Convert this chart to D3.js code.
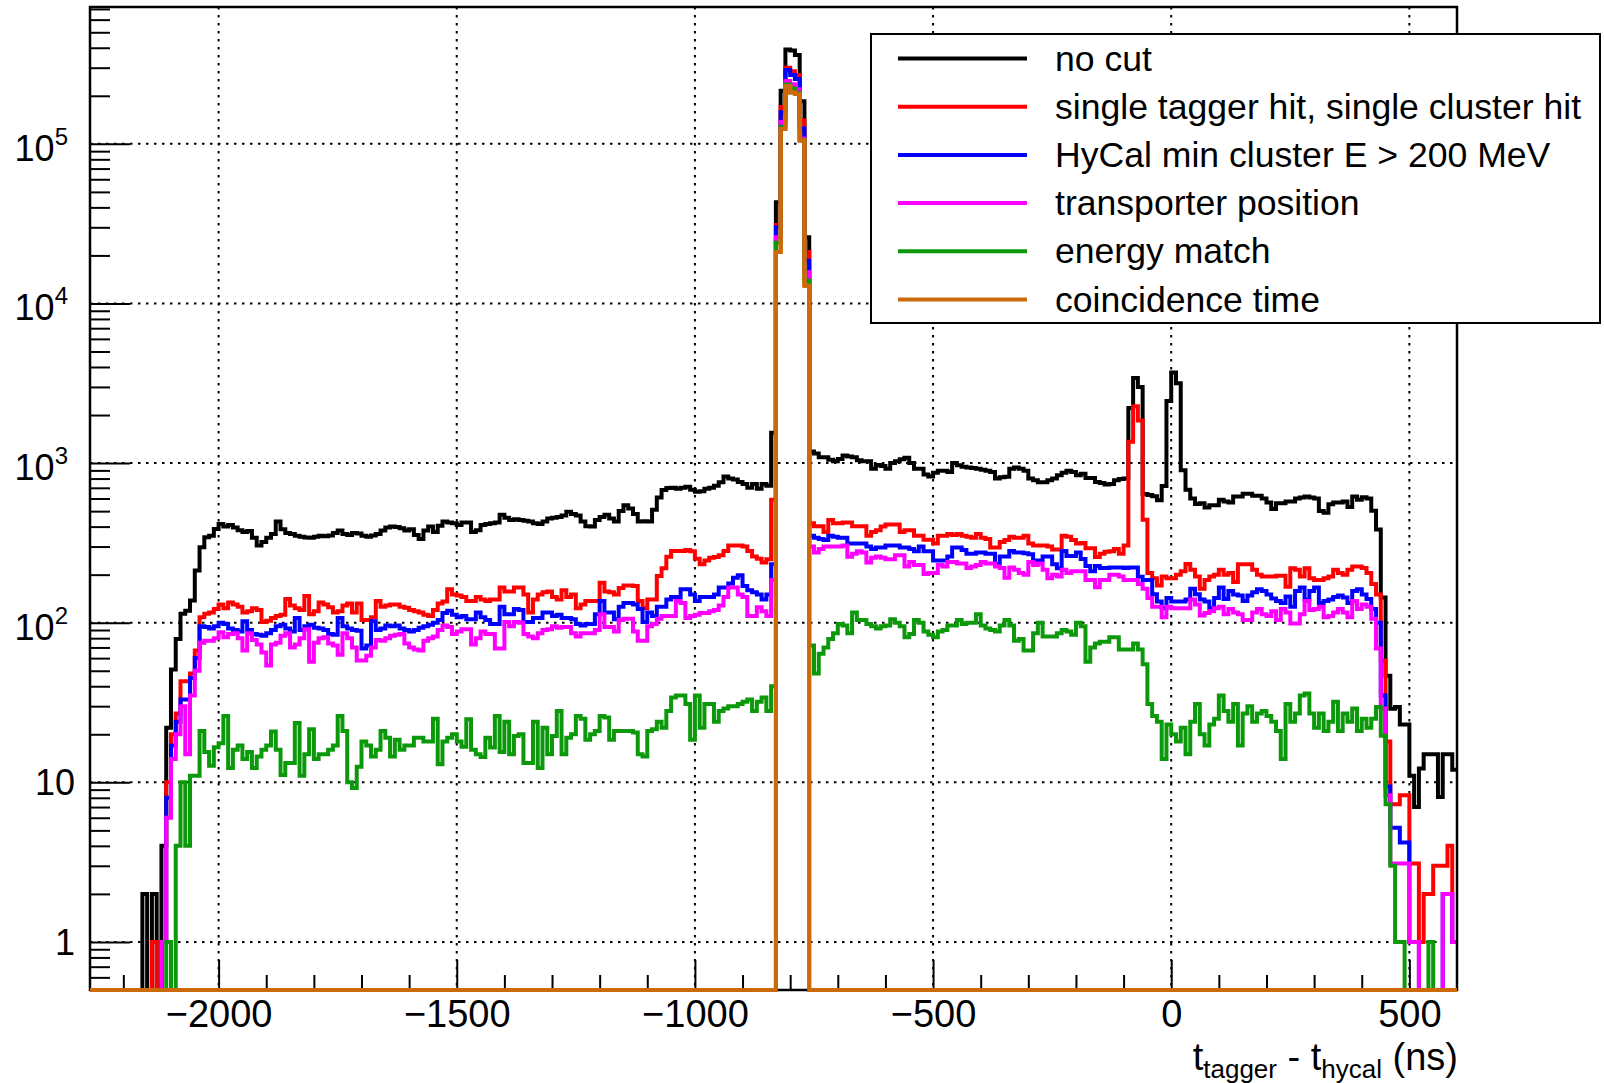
<!DOCTYPE html>
<meta charset="utf-8">
<style>
body { margin: 0; background: #fff; }
text { font-family: "Liberation Sans", Arial, Helvetica, sans-serif; fill: #000; }
.hist { fill: none; stroke-width: 4px; stroke-linejoin: miter; stroke-linecap: butt; }
.grid line { stroke: #000; stroke-width: 2px; stroke-dasharray: 2.5,5.5; }
.tick line { stroke: #000; stroke-width: 2px; }
</style>
<body>
<svg id="chart" width="1604" height="1083"></svg>

<script src="https://d3js.org/d3.v7.min.js"></script>
<script>

// histogram binning (ns)
var xMin = -2270, xMax = 600, binWidth = 10;

// bin contents, 287 bins of 10 ns from -2270 to 600
var noCut = [
  0,0,0,0,0,0,0,0,0,0,
  0,2,0,2,0,4,22,51,79,114,
  119,138,212,297,343,350,387,416,400,410,
  395,380,370,375,340,305,320,340,360,430,
  385,365,360,350,345,342,340,345,350,348,
  352,365,378,360,355,365,362,350,345,352,
  360,378,395,400,398,390,378,385,355,335,
  378,400,370,405,430,425,420,410,425,425,
  370,380,410,415,420,425,474,455,440,445,
  440,435,430,420,415,430,450,455,460,470,
  496,480,470,430,402,400,440,460,474,450,
  430,501,545,520,480,430,432,430,510,608,
  679,698,700,690,700,710,680,661,665,690,
  700,720,759,824,800,790,760,740,700,740,
  690,740,720,1550,43000,215000,390000,385000,360000,185000,
  26000,1180,1150,1086,1086,1050,1028,1060,1117,1100,
  1086,1040,1028,1028,920,973,960,920,1000,1028,
  1057,1080,1000,920,920,847,824,871,896,896,
  880,1000,970,950,940,930,920,910,896,880,
  802,815,820,920,940,920,896,802,780,759,
  759,780,802,840,870,896,880,840,858,807,
  807,760,750,735,740,780,795,800,2210,3415,
  3000,640,631,620,584,718,2450,3690,3160,903,
  681,599,555,560,527,545,545,590,575,567,
  617,617,643,643,625,625,600,567,515,560,
  560,575,575,600,608,617,608,600,501,488,
  553,567,567,575,530,617,590,611,600,503,
  384,144,46.6,28.9,29.6,23,23,11,7,12.2,
  15,15,15,8.1,15,15,12
];

var singleHit = [
  0,0,0,0,0,0,0,0,0,0,
  0,0,0,1,0,1,10,20,27,43,
  43,48,67,108,114,116,122,130,123,134,
  130,126,116,118,123,120,101,103,107,110,
  112,141,128,123,120,147,113,118,134,130,
  125,116,118,128,132,116,132,104,104,108,
  137,126,128,130,130,126,124,120,118,116,
  112,110,120,132,136,162,150,148,145,137,
  137,145,140,137,140,140,166,157,157,166,
  166,150,116,140,150,155,157,145,140,160,
  145,150,123,130,137,137,137,178,157,155,
  150,165,171,171,170,137,123,140,140,196,
  219,259,281,281,281,285,280,252,232,245,
  255,258,265,281,305,305,305,300,281,260,
  252,238,250,590,31000,170000,300000,285000,270000,140000,
  21000,420,402,402,370,440,420,420,425,425,
  402,402,402,350,370,380,400,413,413,413,
  370,380,380,350,350,331,331,313,350,350,
  360,355,360,350,345,340,360,340,335,296,
  296,320,330,345,340,340,350,313,305,305,
  305,300,288,288,350,345,330,313,316,293,
  293,258,270,278,280,290,270,305,1360,2267,
  1848,441,205,190,171,195,190,190,200,210,
  233,215,195,163,185,195,200,215,200,205,
  180,232,232,232,215,200,195,195,195,197,
  197,168,219,215,195,219,190,185,185,190,
  195,215,205,200,215,225,225,220,205,175,
  150,58,18,7.3,7.3,8.3,8.3,3.1,3.1,1,
  2,2,3,3,3,4,1
];

var minEnergy = [
  0,0,0,0,0,0,0,0,0,0,
  0,0,0,0,0,1,8,17,24,33,
  33,45,60,95,94,92,95,100,98,92,
  90,88,102,90,85,84,83,86,90,95,
  97,92,88,107,90,95,97,93,92,90,
  85,84,107,95,92,90,89,69,72,102,
  90,92,96,95,96,92,90,88,90,93,
  95,97,100,104,115,119,112,108,110,105,
  105,116,108,104,98,98,126,113,113,122,
  120,101,101,107,107,116,116,110,112,107,
  107,105,98,96,98,98,113,137,116,116,
  105,126,133,133,130,122,101,116,110,126,
  126,140,145,145,162,162,150,137,145,145,
  145,150,166,166,176,191,198,170,160,155,
  150,140,150,232,30000,158000,290000,270000,255000,125000,
  18500,350,340,335,330,350,345,340,340,313,
  313,313,313,300,290,296,296,305,305,305,
  296,296,290,280,300,280,280,245,245,245,
  260,296,296,285,270,270,275,275,270,270,
  232,260,260,281,275,275,272,268,245,245,
  260,260,232,219,281,262,262,275,251,227,
  210,227,220,220,222,222,222,220,222,222,
  194,185,185,151,136,123,143,136,136,136,
  140,163,151,140,136,123,143,166,141,158,
  150,148,137,148,155,162,158,150,142,137,
  133,146,126,158,166,140,158,166,133,137,
  140,145,148,144,133,158,162,150,141,122,
  100,35,9.4,5.2,5.2,4.2,4.2,1,1,0,
  0,0,0,0,2,2,1
];

var transporter = [
  0,0,0,0,0,0,0,0,0,0,
  0,0,0,0,0,1,6,14,20,30,
  15,35,50,75,77,77,80,87,81,85,
  86,80,67,86,78,73,65,54,73,75,
  83,86,70,73,80,91,57,75,80,81,
  74,72,63,86,80,70,58,58,62,70,
  78,77,80,83,84,85,74,70,68,67,
  77,80,82,90,96,94,85,88,91,91,
  73,80,88,85,85,69,69,101,95,101,
  100,85,82,80,86,90,91,95,93,94,
  94,86,82,86,86,86,90,113,94,94,
  88,104,106,106,88,77,77,95,98,106,
  110,110,110,137,133,107,110,112,115,115,
  118,120,128,145,166,166,150,145,110,110,
  125,118,110,185,26000,137000,248000,236000,220000,108000,
  15700,300,275,290,300,300,300,300,305,259,
  270,280,275,238,255,260,255,250,250,265,
  265,225,240,230,230,202,205,205,230,225,
  240,240,235,235,220,225,230,240,235,235,
  225,220,191,222,215,205,200,240,230,235,
  215,190,200,195,215,205,210,210,210,185,
  185,167,185,185,200,200,195,185,185,185,
  175,163,143,126,126,108,126,123,123,123,
  123,140,130,111,115,118,123,126,113,122,
  116,113,104,104,116,122,113,110,118,104,
  122,116,99,99,113,137,120,122,126,108,
  110,116,122,116,108,137,122,130,126,106,
  69,29,8.3,3.1,3.1,3.1,3.1,1,1,0,
  0,0,0,0,2,2,1
];

var energyMatch = [
  0,0,0,0,0,0,0,0,0,0,
  0,0,0,0,0,0,1,0,4,10,
  4,11,11,21,15.5,12.7,16.6,17.6,26,12.3,
  16,17,14,15.5,12.3,14.5,16,17,20.8,16,
  11.1,13.2,13.2,23.5,11,15,21.5,14,15,15,
  16,17,26,21,10,9.2,12.5,18,17,14.5,
  16,21,19,14.5,18.5,16,17,17,19,19,
  18,18,25,13,18,19,20,18,16.7,24.8,
  16,15,14.4,19,16.5,26,15.5,24,15,19.5,
  20,13.2,13.2,24,12.3,22,15,19.5,28,15,
  19,20,26,25,18.5,20,21,26,25.5,18.5,
  21,21,21,21,20.5,15,14.5,21,21.5,24,
  22,28,34,35,35,31,18.5,35,22,31,
  31,24,28,29,30,30,31,32,33,28,
  32,34,28,40,24000,128000,235000,222000,208000,106000,
  13900,72,48,64,70,79,86,98,96,86,
  116,104,104,98,95,92,95,96,105,100,
  95,81,85,104,100,88,84,81,88,90,
  96,96,104,98,100,100,113,96,92,90,
  88,96,104,96,77,79,67,67,86,100,
  82,82,82,86,90,88,84,100,95,57,
  70,74,76,76,81,81,68,68,68,74,
  68,55,31,26,24,14,23,20,18,22,
  15,24,31,20,17,23,25,35,28,24,
  31,17,27,30,24,27,28,26,24,21,
  14,31,24,27,35,36,27,22,27,21,
  24,32,21,27,24,29,21,25,22,25,
  29.6,19.6,7.3,3,1,1,0,0,0,0,
  0,1,0,0,0,0,0
];

var coincidence = [
  0,0,0,0,0,0,0,0,0,0,
  0,0,0,0,0,0,0,0,0,0,
  0,0,0,0,0,0,0,0,0,0,
  0,0,0,0,0,0,0,0,0,0,
  0,0,0,0,0,0,0,0,0,0,
  0,0,0,0,0,0,0,0,0,0,
  0,0,0,0,0,0,0,0,0,0,
  0,0,0,0,0,0,0,0,0,0,
  0,0,0,0,0,0,0,0,0,0,
  0,0,0,0,0,0,0,0,0,0,
  0,0,0,0,0,0,0,0,0,0,
  0,0,0,0,0,0,0,0,0,0,
  0,0,0,0,0,0,0,0,0,0,
  0,0,0,0,0,0,0,0,0,0,
  0,0,0,0,21000,124000,230000,210000,205000,105000,
  12900,0,0,0,0,0,0,0,0,0,
  0,0,0,0,0,0,0,0,0,0,
  0,0,0,0,0,0,0,0,0,0,
  0,0,0,0,0,0,0,0,0,0,
  0,0,0,0,0,0,0,0,0,0,
  0,0,0,0,0,0,0,0,0,0,
  0,0,0,0,0,0,0,0,0,0,
  0,0,0,0,0,0,0,0,0,0,
  0,0,0,0,0,0,0,0,0,0,
  0,0,0,0,0,0,0,0,0,0,
  0,0,0,0,0,0,0,0,0,0,
  0,0,0,0,0,0,0,0,0,0,
  0,0,0,0,0,0,0,0,0,0,
  0,0,0,0,0,0,0
];

var labels = ["no cut", "single tagger hit, single cluster hit", "HyCal min cluster E > 200 MeV",
              "transporter position", "energy match", "coincidence time"];
var colors = ["#000000", "#ff0000", "#0000ff", "#ff00ff", "#0b990b", "#cc6a0a"];
var allSeries = [noCut, singleHit, minEnergy, transporter, energyMatch, coincidence];

// axis ticks
var xMajor = [-2000, -1500, -1000, -500, 0, 500];
var xMinor = [-2200, -2100, -1900, -1800, -1700, -1600, -1400, -1300, -1200, -1100,
              -900, -800, -700, -600, -400, -300, -200, -100, 100, 200, 300, 400];
var yMajor = [1, 10, 100, 1000, 10000, 100000];

// frame geometry
var margin = {top: 7, left: 90},
    width = 1367,
    height = 983;

var x = d3.scaleLinear().domain([xMin, xMax]).range([0, width]);
var y = d3.scaleLog().domain([0.5, 7.2e5]).range([height, 0]);

var yMinor = [];
[-1, 0, 1, 2, 3, 4, 5].forEach(function(p) {
  for (var k = 2; k <= 9; k++) {
    var v = k * Math.pow(10, p);
    if (v >= 0.5 && v <= 7.2e5) yMinor.push(v);
  }
});

var svg = d3.select("#chart");
svg.append("rect").attr("width", 1604).attr("height", 1083).attr("fill", "#fff");

var g = svg.append("g")
    .attr("transform", "translate(" + margin.left + "," + margin.top + ")");

// dotted grid
var grid = g.append("g").attr("class", "grid");
grid.selectAll(".gx").data(xMajor).enter().append("line")
    .attr("x1", function(d) { return x(d); }).attr("x2", function(d) { return x(d); })
    .attr("y1", 0).attr("y2", height);
grid.selectAll(".gy").data(yMajor).enter().append("line")
    .attr("x1", 0).attr("x2", width)
    .attr("y1", function(d) { return y(d); }).attr("y2", function(d) { return y(d); });

// ticks, pointing into the frame
g.append("g").attr("transform", "translate(0," + height + ")")
    .call(d3.axisBottom(x).tickValues(xMinor).tickSize(-15).tickFormat(""))
    .call(function(a) { a.select(".domain").remove(); });

var xAxis = g.append("g").attr("transform", "translate(0," + height + ")")
    .call(d3.axisBottom(x).tickValues(xMajor).tickSize(-30).tickPadding(10)
          .tickFormat(d3.format("d")));
xAxis.select(".domain").remove();
xAxis.selectAll("text")
    .attr("font-size", "38px")
    .attr("font-family", "Liberation Sans, Arial, sans-serif");

g.append("g")
    .call(d3.axisLeft(y).tickValues(yMinor).tickSize(-20).tickFormat(""))
    .call(function(a) { a.select(".domain").remove(); });
g.append("g")
    .call(d3.axisLeft(y).tickValues(yMajor).tickSize(-40).tickFormat(""))
    .call(function(a) { a.select(".domain").remove(); });

// y labels: 1, 10, then 10^n
yMajor.forEach(function(v) {
  var p = Math.round(Math.log10(v));
  var t = svg.append("text")
      .attr("text-anchor", "end")
      .attr("font-size", "36px");
  if (p < 2) {
    t.attr("x", margin.left - 15).attr("y", margin.top + y(v) + 13).text(String(v));
  } else {
    t.attr("x", margin.left - 22).attr("y", margin.top + y(v) + 17).text("10");
    t.append("tspan").attr("font-size", "24px").attr("dy", -16).text(String(p));
  }
});

// histograms as step outlines, empty bins sit on the bottom of the frame
var line = d3.line()
    .x(function(d) { return x(d.x); })
    .y(function(d) { return d.v > 0 ? y(d.v) : height; })
    .curve(d3.curveStepAfter);

function binPoints(values) {
  var pts = values.map(function(v, i) { return {x: xMin + i * binWidth, v: v}; });
  pts.push({x: xMin + values.length * binWidth, v: values[values.length - 1]});
  return pts;
}

allSeries.forEach(function(values, i) {
  g.append("path")
      .datum(binPoints(values))
      .attr("class", "hist")
      .style("stroke", colors[i])
      .attr("d", line);
});

// frame
g.append("rect")
    .attr("width", width).attr("height", height)
    .attr("fill", "none").attr("stroke", "#000").attr("stroke-width", 2.5);

// last histogram again so it lies over the bottom of the frame
g.append("path")
    .datum(binPoints(coincidence))
    .attr("class", "hist")
    .style("stroke", colors[5])
    .attr("d", line);

// x axis title
var title = svg.append("text")
    .attr("x", 1458).attr("y", 1070)
    .attr("text-anchor", "end")
    .attr("font-size", "38px");
title.append("tspan").text("t");
title.append("tspan").attr("font-size", "26px").attr("dy", 8).text("tagger");
title.append("tspan").attr("dy", -8).text(" - t");
title.append("tspan").attr("font-size", "26px").attr("dy", 8).text("hycal");
title.append("tspan").attr("dy", -8).text(" (ns)");

// legend
var legend = svg.append("g");
legend.append("rect")
    .attr("x", 871).attr("y", 34).attr("width", 729).attr("height", 289)
    .attr("fill", "#fff").attr("stroke", "#000").attr("stroke-width", 2);

labels.forEach(function(d, i) {
  var cy = 58.5 + i * 48.2;
  legend.append("line")
      .attr("x1", 898).attr("x2", 1027)
      .attr("y1", cy).attr("y2", cy)
      .attr("stroke", colors[i]).attr("stroke-width", 4);
  legend.append("text")
      .attr("x", 1055).attr("y", cy + 12)
      .attr("font-size", "35.6px")
      .text(d);
});

</script>
</body>
